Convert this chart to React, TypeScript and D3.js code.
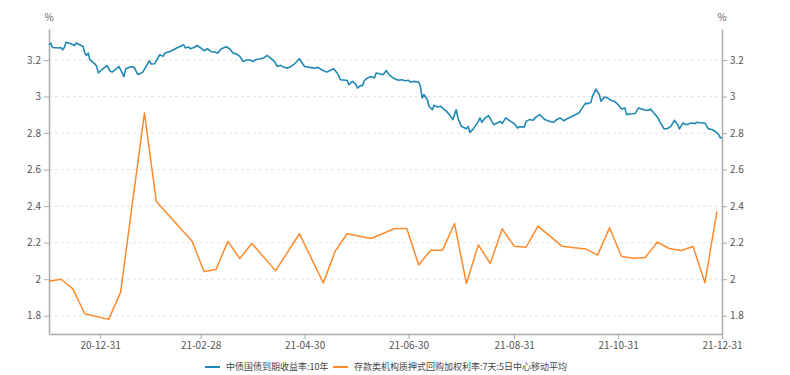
import React from "react";
import * as d3 from "d3";

// 中债国债到期收益率:10年 (daily)
const bondDates = [
  "2020-12-01","2020-12-02","2020-12-03","2020-12-07","2020-12-08","2020-12-09","2020-12-10","2020-12-11",
  "2020-12-14","2020-12-16","2020-12-17","2020-12-21","2020-12-22","2020-12-23","2020-12-24","2020-12-25",
  "2020-12-28","2020-12-29","2020-12-30","2021-01-01","2021-01-04","2021-01-06","2021-01-07","2021-01-10",
  "2021-01-11","2021-01-12","2021-01-14","2021-01-15","2021-01-18","2021-01-20","2021-01-22","2021-01-23",
  "2021-01-25","2021-01-27","2021-01-29","2021-01-30","2021-02-01","2021-02-04","2021-02-06","2021-02-07",
  "2021-02-10","2021-02-14","2021-02-18","2021-02-19","2021-02-21","2021-02-22","2021-02-24","2021-02-26",
  "2021-02-28","2021-03-02","2021-03-04","2021-03-06","2021-03-08","2021-03-10","2021-03-12","2021-03-15",
  "2021-03-17","2021-03-19","2021-03-21","2021-03-23","2021-03-25","2021-03-27","2021-03-29","2021-03-31",
  "2021-04-01","2021-04-04","2021-04-06","2021-04-08","2021-04-10","2021-04-12","2021-04-14","2021-04-16",
  "2021-04-18","2021-04-20","2021-04-22","2021-04-24","2021-04-27","2021-04-28","2021-04-30","2021-05-03",
  "2021-05-06","2021-05-08","2021-05-10","2021-05-13","2021-05-15","2021-05-17","2021-05-18","2021-05-20",
  "2021-05-21","2021-05-24","2021-05-25","2021-05-26","2021-05-28","2021-05-30","2021-05-31","2021-06-02",
  "2021-06-03","2021-06-04","2021-06-06","2021-06-08","2021-06-10","2021-06-11","2021-06-13","2021-06-15",
  "2021-06-17","2021-06-19","2021-06-21","2021-06-24","2021-06-26","2021-06-28","2021-06-30","2021-07-01",
  "2021-07-03","2021-07-06","2021-07-07","2021-07-08","2021-07-09","2021-07-11","2021-07-12","2021-07-14",
  "2021-07-15","2021-07-17","2021-07-19","2021-07-21","2021-07-22","2021-07-24","2021-07-26","2021-07-28",
  "2021-07-29","2021-07-31","2021-08-02","2021-08-03","2021-08-04","2021-08-05","2021-08-07","2021-08-10",
  "2021-08-11","2021-08-12","2021-08-14","2021-08-16","2021-08-19","2021-08-21","2021-08-23","2021-08-24",
  "2021-08-26","2021-08-29","2021-08-31","2021-09-02","2021-09-03","2021-09-06","2021-09-07","2021-09-09",
  "2021-09-11","2021-09-13","2021-09-15","2021-09-16","2021-09-18","2021-09-21","2021-09-23","2021-09-25",
  "2021-09-27","2021-09-29","2021-10-02","2021-10-05","2021-10-08","2021-10-10","2021-10-12","2021-10-13",
  "2021-10-15","2021-10-16","2021-10-18","2021-10-20","2021-10-21","2021-10-23","2021-10-25","2021-10-27",
  "2021-10-29","2021-10-31","2021-11-02","2021-11-04","2021-11-05","2021-11-07","2021-11-10","2021-11-12",
  "2021-11-14","2021-11-16","2021-11-18","2021-11-19","2021-11-21","2021-11-23","2021-11-25","2021-11-27",
  "2021-11-29","2021-12-01","2021-12-03","2021-12-05","2021-12-06","2021-12-08","2021-12-10","2021-12-13",
  "2021-12-15","2021-12-16","2021-12-19","2021-12-21","2021-12-23","2021-12-25","2021-12-27","2021-12-29",
  "2021-12-30","2021-12-31",
];
const bondValues = [
  3.284,3.293,3.269,3.266,3.269,3.256,3.269,3.298,
  3.289,3.28,3.293,3.274,3.238,3.225,3.238,3.202,
  3.178,3.165,3.129,3.147,3.17,3.138,3.134,3.156,
  3.165,3.147,3.109,3.152,3.163,3.16,3.123,3.123,
  3.134,3.165,3.196,3.178,3.18,3.229,3.22,3.238,
  3.247,3.266,3.284,3.266,3.271,3.262,3.269,3.28,
  3.266,3.251,3.262,3.247,3.244,3.238,3.26,3.273,
  3.262,3.238,3.233,3.22,3.192,3.2,3.2,3.192,
  3.202,3.207,3.211,3.225,3.211,3.196,3.165,3.171,
  3.16,3.156,3.165,3.178,3.207,3.192,3.165,3.16,
  3.156,3.16,3.147,3.134,3.143,3.152,3.143,3.116,
  3.092,3.089,3.089,3.065,3.083,3.069,3.047,3.061,
  3.06,3.087,3.102,3.11,3.102,3.129,3.125,3.12,
  3.142,3.116,3.102,3.089,3.092,3.087,3.089,3.08,
  3.083,3.08,3.056,2.992,3.011,2.984,2.947,2.928,
  2.952,2.943,2.947,2.928,2.923,2.901,2.874,2.928,
  2.883,2.837,2.828,2.823,2.837,2.804,2.823,2.864,
  2.883,2.859,2.883,2.896,2.846,2.855,2.864,2.852,
  2.883,2.864,2.852,2.828,2.834,2.834,2.864,2.874,
  2.87,2.889,2.901,2.892,2.874,2.864,2.859,2.874,
  2.883,2.868,2.883,2.896,2.91,2.938,2.965,2.961,
  2.968,3.001,3.041,3.01,2.974,2.998,2.992,2.979,
  2.974,2.956,2.932,2.938,2.901,2.905,2.907,2.938,
  2.932,2.925,2.925,2.932,2.91,2.889,2.855,2.823,
  2.825,2.837,2.87,2.846,2.823,2.855,2.846,2.855,
  2.852,2.859,2.855,2.855,2.823,2.82,2.81,2.792,
  2.774,2.776,
];

// 存款类机构质押式回购加权利率:7天:5日中心移动平均 (weekly)
const repoDates = [
  "2020-12-01","2020-12-08","2020-12-15","2020-12-22","2021-01-05","2021-01-12","2021-01-26","2021-02-02",
  "2021-02-23","2021-03-02","2021-03-09","2021-03-16","2021-03-23","2021-03-30","2021-04-13","2021-04-27",
  "2021-05-11","2021-05-18","2021-05-25","2021-06-08","2021-06-22","2021-06-29","2021-07-06","2021-07-13",
  "2021-07-20","2021-07-27","2021-08-03","2021-08-10","2021-08-17","2021-08-24","2021-08-31","2021-09-07",
  "2021-09-14","2021-09-28","2021-10-12","2021-10-19","2021-10-26","2021-11-02","2021-11-09","2021-11-16",
  "2021-11-23","2021-11-30","2021-12-07","2021-12-14","2021-12-21","2021-12-28",
];
const repoValues = [
  1.989,2.0,1.947,1.811,1.78,1.928,2.91,2.425,
  2.208,2.042,2.053,2.207,2.113,2.196,2.047,2.249,
  1.98,2.154,2.249,2.223,2.278,2.278,2.078,2.159,
  2.159,2.305,1.976,2.188,2.086,2.276,2.181,2.175,
  2.291,2.181,2.166,2.132,2.282,2.124,2.115,2.119,
  2.203,2.168,2.157,2.179,1.981,2.37,
];

const xTickLabels = ["20-12-31","21-02-28","21-04-30","21-06-30","21-08-31","21-10-31","21-12-31"];
const yTicks = [1.8, 2, 2.2, 2.4, 2.6, 2.8, 3, 3.2];
const xStart = "2020-12-01";
const xEnd = "2021-12-31";
const yDomain = [1.7, 3.37];

const seriesNames = ["中债国债到期收益率:10年", "存款类机构质押式回购加权利率:7天:5日中心移动平均"];
const seriesColors = ["#1f88b4", "#ff8a2b"];

const App = () => {
  const ref = React.useRef(null);

  React.useEffect(() => {
    const width = 790;
    const height = 375;
    const margin = { left: 49, right: 68, top: 29, bottom: 41 };
    const font = "'Noto Sans CJK SC', 'Noto Sans', sans-serif";

    const svg = d3.select(ref.current);
    svg.selectAll("*").remove();

    const parse = d3.timeParse("%Y-%m-%d");
    const parseTick = d3.timeParse("%y-%m-%d");

    const x = d3.scaleTime()
      .domain([parse(xStart), parse(xEnd)])
      .range([margin.left, width - margin.right]);
    const y = d3.scaleLinear()
      .domain(yDomain)
      .range([height - margin.bottom, margin.top]);

    const fmt = (d) => String(+d.toFixed(1));

    // grid
    svg.append("g")
      .selectAll("line")
      .data(yTicks)
      .join("line")
      .attr("x1", margin.left)
      .attr("x2", width - margin.right)
      .attr("y1", d => y(d))
      .attr("y2", d => y(d))
      .attr("stroke", "#e2e2e2")
      .attr("stroke-dasharray", "3,3");

    const drawAxis = (g, tx, ty, axis) => {
      g.attr("transform", `translate(${tx},${ty})`)
        .call(axis)
        .call(g => g.select(".domain").attr("stroke", "#aaa").attr("stroke-width", 1.5))
        .call(g => g.selectAll(".tick line").attr("stroke", "#aaa"))
        .call(g => g.selectAll(".tick text").attr("fill", "#555").attr("font-size", 10).attr("font-family", font));
    };

    svg.append("g").call(g => drawAxis(g, margin.left, 0,
      d3.axisLeft(y).tickValues(yTicks).tickFormat(fmt).tickSize(5).tickSizeOuter(0)));
    svg.append("g").call(g => drawAxis(g, width - margin.right, 0,
      d3.axisRight(y).tickValues(yTicks).tickFormat(fmt).tickSize(5).tickSizeOuter(0)));
    svg.append("g").call(g => drawAxis(g, 0, height - margin.bottom,
      d3.axisBottom(x).tickValues(xTickLabels.map(parseTick)).tickFormat(d3.timeFormat("%y-%m-%d")).tickSize(5).tickSizeOuter(0)));

    // unit labels
    [margin.left, width - margin.right].forEach(px => {
      svg.append("text")
        .attr("x", px)
        .attr("y", 21)
        .attr("text-anchor", "middle")
        .attr("fill", "#666")
        .attr("font-size", 10)
        .attr("font-family", font)
        .text("%");
    });

    const line = d3.line()
      .x(d => x(d[0]))
      .y(d => y(d[1]));

    const series = [
      bondDates.map((d, i) => [parse(d), bondValues[i]]),
      repoDates.map((d, i) => [parse(d), repoValues[i]]),
    ];

    // orange under blue
    [1, 0].forEach(i => {
      svg.append("path")
        .datum(series[i])
        .attr("fill", "none")
        .attr("stroke", seriesColors[i])
        .attr("stroke-width", i === 0 ? 1.6 : 1.5)
        .attr("stroke-linejoin", "round")
        .attr("d", line);
    });

    // legend
    const legendX = [205, 333];
    const legend = svg.append("g")
      .selectAll("g")
      .data(seriesNames)
      .join("g")
      .attr("transform", (d, i) => `translate(${legendX[i]},367)`);
    legend.append("line")
      .attr("x1", 0).attr("x2", 15)
      .attr("stroke", (d, i) => seriesColors[i])
      .attr("stroke-width", 2);
    legend.append("text")
      .attr("x", 21)
      .attr("dy", "0.35em")
      .attr("fill", "#444")
      .attr("font-size", 9)
      .attr("font-family", font)
      .text(d => d);
  }, []);

  return (
    <svg
      ref={ref}
      width={790}
      height={375}
      style={{ position: "absolute", left: 0, top: 0, background: "#fff" }}
    />
  );
};

export default App;
